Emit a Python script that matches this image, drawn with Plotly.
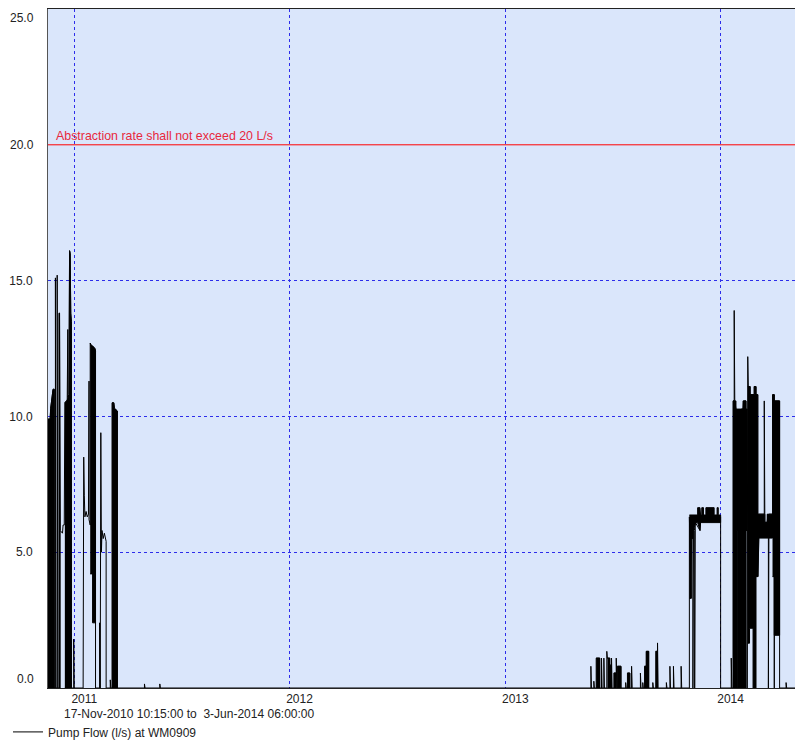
import plotly.graph_objects as go

# Pump flow record (l/s), in time order
flow_time = [
    "2010-11-17 10:15", "2010-11-21", "2010-11-22", "2010-11-26", "2010-11-28", "2010-11-28",
    "2010-11-30", "2010-11-30", "2010-12-01", "2010-12-01", "2010-12-03", "2010-12-03", "2010-12-04",
    "2010-12-06", "2010-12-06", "2010-12-07", "2010-12-08", "2010-12-12", "2010-12-13", "2010-12-15",
    "2010-12-16", "2010-12-20", "2010-12-21", "2010-12-21", "2010-12-23", "2010-12-24", "2010-12-25",
    "2010-12-26", "2010-12-27", "2010-12-27", "2010-12-31", "2010-12-31", "2011-01-01",
    "2011-01-16", "2011-01-17", "2011-01-17", "2011-01-18", "2011-01-19", "2011-01-21", "2011-01-23",
    "2011-01-25", "2011-01-26", "2011-01-26", "2011-01-28", "2011-01-28", "2011-01-30", "2011-02-05",
    "2011-02-06", "2011-02-06", "2011-02-13", "2011-02-13", "2011-02-14", "2011-02-15", "2011-02-16",
    "2011-02-17", "2011-02-19", "2011-02-21", "2011-02-24", "2011-02-24", "2011-03-03", "2011-03-03",
    "2011-03-04", "2011-03-06", "2011-03-06", "2011-03-09", "2011-03-10", "2011-03-15", "2011-03-15",
    "2011-04-30", "2011-04-30", "2011-05-01", "2011-05-26", "2011-05-26", "2011-05-27",
    "2013-05-26", "2013-05-26", "2013-05-27", "2013-05-31", "2013-05-31", "2013-06-01",
    "2013-06-04", "2013-06-04", "2013-06-10", "2013-06-10", "2013-06-13", "2013-06-13", "2013-06-14",
    "2013-06-17", "2013-06-17", "2013-06-18", "2013-06-22", "2013-06-22", "2013-06-23", "2013-06-27",
    "2013-06-27", "2013-06-30", "2013-06-30", "2013-07-01", "2013-07-04", "2013-07-04", "2013-07-08",
    "2013-07-08", "2013-07-09", "2013-07-10", "2013-07-10", "2013-07-16", "2013-07-16", "2013-07-24",
    "2013-07-24", "2013-07-25", "2013-07-25", "2013-07-27", "2013-07-27", "2013-07-31", "2013-07-31",
    "2013-08-03", "2013-08-03", "2013-08-04", "2013-08-18", "2013-08-18", "2013-08-19", "2013-08-22",
    "2013-08-22", "2013-08-23", "2013-08-25", "2013-08-25", "2013-08-28", "2013-08-28", "2013-09-01",
    "2013-09-01", "2013-09-08", "2013-09-08", "2013-09-09", "2013-09-13", "2013-09-13", "2013-09-16",
    "2013-09-16", "2013-09-17", "2013-10-01", "2013-10-01", "2013-10-02", "2013-10-07", "2013-10-07",
    "2013-10-08", "2013-10-13", "2013-10-13", "2013-10-14", "2013-10-26", "2013-10-26", "2013-10-27",
    "2013-11-09", "2013-11-09", "2013-11-12", "2013-11-13", "2013-11-15", "2013-11-15", "2013-11-16",
    "2013-11-18", "2013-11-18", "2013-11-19", "2013-11-27", "2013-11-28", "2013-12-31", "2014-01-01",
    "2014-01-01", "2014-01-19", "2014-01-19", "2014-01-20", "2014-01-22", "2014-01-22", "2014-01-24",
    "2014-01-24", "2014-01-25", "2014-01-27", "2014-01-28", "2014-01-28", "2014-01-30", "2014-01-30",
    "2014-02-04", "2014-02-04", "2014-02-05", "2014-02-08", "2014-02-09", "2014-02-13", "2014-02-13",
    "2014-02-15", "2014-02-15", "2014-02-16", "2014-02-17", "2014-02-20", "2014-02-20", "2014-02-27",
    "2014-02-27", "2014-03-02", "2014-03-02", "2014-03-05", "2014-03-05", "2014-03-06", "2014-03-16",
    "2014-03-16", "2014-03-17", "2014-03-21", "2014-03-22", "2014-03-23", "2014-03-23", "2014-03-24",
    "2014-03-30", "2014-03-30", "2014-04-02", "2014-04-02", "2014-04-02", "2014-04-11", "2014-04-11",
    "2014-04-22", "2014-04-22", "2014-04-23", "2014-06-03 06:00",
]
flow_lps = [
    9.9, 9.9, 10.3, 11.0, 11.0, 0,
    0, 15.1, 15.0, 0, 0, 15.2, 0,
    0, 13.8, 13.8, 5.8, 5.7, 6.0, 6.0,
    10.5, 10.6, 13.2, 10.7, 10.8, 16.1, 16.0,
    13.8, 13.5, 0, 0, 1.8, 0,
    0, 8.5, 5.9, 7.1, 6.3, 6.5, 6.3,
    6.4, 11.3, 6.2, 6.0, 12.7, 12.6, 12.5,
    12.4, 0, 0, 2.4, 0, 9.4, 5.0,
    5.8, 5.5, 5.7, 5.4, 0, 0, 0.3,
    0, 0, 10.5, 10.5, 10.3, 10.2, 0,
    0, 0.15, 0, 0, 0.15, 0,
    0, 0.8, 0, 0, 0.25, 0,
    0, 1.1, 1.1, 0, 0, 1.1, 0,
    0, 1.1, 0, 0, 1.35, 1.1, 1.1,
    0.84, 0.84, 1.1, 0, 0, 0.55, 0.55,
    1.1, 0, 0, 0.8, 0.8, 0, 0,
    0.2, 0.2, 0, 0, 0.55, 0.55, 0,
    0, 0.8, 0, 0, 0.55, 0, 0,
    0.2, 0, 0, 0.8, 0.8, 1.35, 1.35,
    0, 0, 0.2, 0, 0, 1.35, 1.35,
    1.66, 0, 0, 0.2, 0, 0, 0.8,
    0, 0, 0.8, 0, 0, 0.8, 0,
    0, 6.3, 3.3, 6.3, 5.5, 0, 6.1,
    5.8, 0, 6.1, 5.8, 6.2, 6.2, 6.3,
    0, 0, 1.1, 0, 0, 10.57, 10.57,
    13.9, 10.57, 10.27, 5.8, 0, 0, 7.6,
    7.2, 0, 10.27, 10.27, 10.57, 10.57, 5.8,
    5.8, 0, 12.2, 11.1, 11.1, 10.8, 10.8,
    11.1, 11.1, 10.8, 10.8, 4.1, 6.4, 6.4,
    10.57, 6.1, 6.1, 6.4, 5.5, 0, 6.4,
    6.4, 10.8, 10.8, 0, 10.57, 10.57, 0,
    0, 0.2, 0, 0,
]

# Periods logged so densely that they print as solid black (None splits periods)
band_time = [
    "2010-11-17 10:15", "2010-11-21", "2010-11-22", "2010-11-26", "2010-11-28", None,
    "2010-12-06", "2010-12-07", "2010-12-08", None,
    "2010-12-16", "2010-12-20", "2010-12-23", "2010-12-24", "2010-12-25", "2010-12-26", "2010-12-27", None,
    "2011-01-28", "2011-01-30", "2011-02-01", "2011-02-01", "2011-02-05", "2011-02-06", None,
    "2011-03-06", "2011-03-09", "2011-03-10", "2011-03-15", None,
    "2013-06-04", "2013-06-10", None,
    "2013-06-23", "2013-06-27", "2013-06-27", "2013-06-30", None,
    "2013-07-04", "2013-07-08", None,
    "2013-07-10", "2013-07-16", None,
    "2013-07-27", "2013-07-31", None,
    "2013-08-25", "2013-08-28", "2013-08-28", "2013-09-01", None,
    "2013-09-13", "2013-09-16", None,
    "2013-11-09", "2013-11-12", "2013-11-12", "2013-11-15", "2013-11-15", "2013-11-20", "2013-11-23",
    "2013-11-23", "2013-11-27", "2013-11-28", "2013-11-30", "2013-11-30", "2013-12-03", "2013-12-03",
    "2013-12-07", "2013-12-07", "2013-12-21", "2013-12-21", "2013-12-26", "2013-12-26", "2013-12-28",
    "2013-12-28", "2014-01-01", None,
    "2014-01-22", "2014-01-27", "2014-01-27", "2014-01-28", "2014-01-28", "2014-01-30", "2014-01-30",
    "2014-02-03", "2014-02-03", "2014-02-04", "2014-02-04", "2014-02-08", "2014-02-08", "2014-02-13",
    "2014-02-13", "2014-02-15", None,
    "2014-02-16", "2014-02-19", "2014-02-19", "2014-02-20", "2014-02-20", "2014-02-25", "2014-02-25",
    "2014-02-27", "2014-02-27", "2014-03-02", "2014-03-02", "2014-03-05", None,
    "2014-03-05", "2014-03-07", "2014-03-17", "2014-03-17", "2014-03-21", "2014-03-21", "2014-03-30", None,
    "2014-03-30", "2014-04-02", "2014-04-02", "2014-04-11",
]
band_hi = [
    9.9, 9.9, 10.3, 11.0, 11.0, None,
    13.8, 13.8, 5.8, None,
    10.5, 10.6, 10.8, 16.1, 16.0, 13.8, 13.5, None,
    12.7, 12.6, 12.6, 12.6, 12.5, 12.4, None,
    10.5, 10.5, 10.3, 10.2, None,
    1.1, 1.1, None,
    1.1, 1.1, 0.84, 0.84, None,
    0.55, 0.55, None,
    0.8, 0.8, None,
    0.55, 0.55, None,
    0.8, 0.8, 1.35, 1.35, None,
    1.35, 1.35, None,
    6.37, 6.37, 6.37, 6.37, 6.37, 6.37, 6.37,
    6.64, 6.64, 6.37, 6.37, 6.64, 6.64, 6.37,
    6.37, 6.64, 6.64, 6.37, 6.37, 6.64, 6.64,
    6.37, 6.37, None,
    10.57, 10.57, 10.27, 10.27, 10.27, 10.27, 10.27,
    10.27, 10.27, 10.27, 10.27, 10.27, 10.57, 10.57,
    10.27, 10.27, None,
    11.1, 11.1, 11.1, 11.1, 10.8, 10.8, 10.8,
    10.8, 11.1, 11.1, 10.8, 10.8, None,
    6.4, 6.4, 6.4, 6.1, 6.1, 6.4, 6.4, None,
    10.8, 10.8, 10.57, 10.57,
]
band_lo = [
    0, 0, 0, 0, 0, None,
    0, 0, 0, None,
    0, 0, 0, 0, 0, 0, 0, None,
    4.2, 4.2, 4.2, 2.4, 2.4, 2.4, None,
    0, 0, 0, 0, None,
    0, 0, None,
    0, 0, 0, 0, None,
    0, 0, None,
    0, 0, None,
    0, 0, None,
    0, 0, 0, 0, None,
    0, 0, None,
    3.3, 3.3, 5.5, 5.5, 5.8, 6.09, 6.09,
    6.09, 5.8, 6.09, 6.09, 6.09, 6.09, 6.09,
    6.09, 6.09, 6.09, 6.09, 6.09, 6.09, 6.09,
    6.09, 6.09, None,
    0, 0, 0, 0, 5.8, 5.8, 0,
    0, 5.8, 5.8, 0, 0, 0, 0,
    5.8, 5.8, None,
    1.65, 1.65, 2.2, 2.2, 2.2, 2.2, 0,
    0, 0, 0, 4.1, 4.1, None,
    4.1, 5.52, 5.52, 5.52, 5.52, 5.52, 5.52, None,
    4.1, 4.1, 1.94, 1.94,
]

limit_lps = 20
period = ["2010-11-17 10:15", "2014-06-03 06:00"]
year_ticks = ["2011-01-01", "2012-01-01", "2013-01-01", "2014-01-01"]
year_labels = ["2011", "2012", "2013", "2014"]
flow_ticks = [5, 10, 15]

# turn the hi/lo envelopes into closed shapes, one per period
bx, by = [], []
start = 0
for i in range(len(band_time) + 1):
    if i == len(band_time) or band_time[i] is None:
        t = band_time[start:i]
        bx += t + t[::-1] + [None]
        by += band_hi[start:i] + band_lo[start:i][::-1] + [None]
        start = i + 1

font = "Arial, 'Liberation Sans', sans-serif"
grid_blue = "rgb(45,45,235)"

fig = go.Figure()
fig.add_trace(go.Scatter(x=bx, y=by, mode="lines", fill="toself", fillcolor="black",
                         line=dict(color="black", width=1), showlegend=False, hoverinfo="skip"))
fig.add_trace(go.Scatter(x=flow_time, y=flow_lps, mode="lines", name="Pump Flow (l/s) at WM0909",
                         line=dict(color="black", width=1)))

fig.add_shape(type="line", xref="paper", x0=0, x1=1, y0=limit_lps, y1=limit_lps,
              line=dict(color="red", width=1))
fig.add_annotation(text="Abstraction rate shall not exceed 20 L/s", xref="paper", x=0.008,
                   y=limit_lps, xanchor="left", yanchor="bottom", showarrow=False,
                   font=dict(family=font, size=12.4, color="#e8283c"))
fig.add_annotation(text="17-Nov-2010 10:15:00 to&nbsp; 3-Jun-2014 06:00:00", xref="paper",
                   yref="paper", x=0.018, y=-0.038, xanchor="left", yanchor="middle",
                   showarrow=False, font=dict(family=font, size=12, color="#222"))
# labels of the flow axis that have no blue grid line (ends sit inside the frame)
for v, anchor in [(0, "bottom"), (limit_lps, "middle"), (25, "top")]:
    fig.add_annotation(text=f"{v:.1f}", xref="paper", x=0, y=v, xanchor="right", yanchor=anchor,
                       xshift=-12, showarrow=False, font=dict(family=font, size=12, color="#222"))

fig.update_layout(
    width=803, height=744,
    margin=dict(l=40, r=0, t=1, b=64, autoexpand=False),
    paper_bgcolor="white", plot_bgcolor="#dae6fb",
    font=dict(family=font, size=12, color="#222"),
    showlegend=True,
    legend=dict(xref="container", yref="container", x=0, y=0.027, xanchor="left",
                yanchor="middle", bgcolor="rgba(0,0,0,0)", font=dict(size=12), itemwidth=30),
    xaxis=dict(range=period, type="date",
               tickvals=year_ticks, ticktext=year_labels, ticklabelshift=10,
               showgrid=True, gridcolor=grid_blue, griddash="3px,3px", gridwidth=1,
               showline=True, linecolor="#222", linewidth=1, mirror=True,
               zeroline=False, ticks=""),
    yaxis=dict(range=[0, 25], tickvals=flow_ticks, tickformat=".1f", ticklabelstandoff=12,
               showgrid=True, gridcolor=grid_blue, griddash="3px,3px", gridwidth=1,
               showline=True, linecolor="#555", linewidth=1, zeroline=False, ticks=""),
)

fig.write_html("out.html")
